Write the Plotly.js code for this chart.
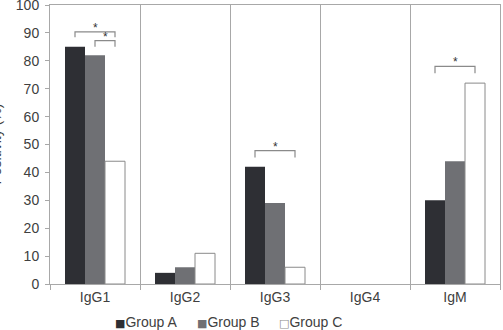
<!DOCTYPE html>
<html>
<head>
<meta charset="utf-8">
<script src="https://cdn.plot.ly/plotly-3.0.1.min.js"></script>
<style>html,body{margin:0;padding:0;background:#fff;}#chart{width:503px;height:330px;}</style>
</head>
<body>
<div id="chart"></div>
<script>
const categories = ['IgG1', 'IgG2', 'IgG3', 'IgG4', 'IgM'];
const groupNames = ['Group A', 'Group B', 'Group C'];
const groupA = [85, 4, 42, 0, 30];
const groupB = [82, 6, 29, 0, 44];
const groupC = [44, 11, 6, 0, 72];
const yTicks = [0, 10, 20, 30, 40, 50, 60, 70, 80, 90, 100];

// significance brackets: category, first group index, last group index, bracket height, leg bottom
const bracketCat = ['IgG1', 'IgG1', 'IgG3', 'IgM'];
const bracketFrom = [0, 1, 0, 0];
const bracketTo = [2, 2, 2, 2];
const bracketTop = [90.4, 87.2, 47.8, 78];
const bracketLeg = [88.4, 85, 45.3, 75.5];

const colors = ['#2e2f34', '#6f7074', '#ffffff'];
const lineColors = ['#2e2f34', '#6f7074', '#8a8a8a'];
const lineWidths = [0, 0, 1];
const series = [groupA, groupB, groupC];
const FONT = 'Liberation Sans, Arial, sans-serif';

const traces = series.map((vals, i) => ({
  type: 'bar',
  name: groupNames[i],
  x: categories,
  y: vals,
  marker: {color: colors[i], line: {color: lineColors[i], width: vals.map(v => v > 0 ? lineWidths[i] : 0)}},
  showlegend: false,
  hoverinfo: 'skip'
}));

const bargap = 1/3;
const barW = (1 - bargap) / series.length;
const center = (cat, g) => categories.indexOf(cat) + (g - (series.length - 1) / 2) * barW;

const shapes = [];
const annotations = [];
bracketCat.forEach((cat, k) => {
  const x0 = center(cat, bracketFrom[k]);
  const x1 = center(cat, bracketTo[k]);
  const top = bracketTop[k];
  const leg = bracketLeg[k];
  shapes.push({type: 'path', xref: 'x', yref: 'y',
    path: `M ${x0} ${leg} L ${x0} ${top} L ${x1} ${top} L ${x1} ${leg}`,
    line: {color: '#8a8a8a', width: 1.2}});
  annotations.push({xref: 'x', yref: 'y', x: (x0 + x1) / 2, y: top, text: '*',
    showarrow: false, yanchor: 'bottom', yshift: -5,
    font: {family: FONT, size: 12, color: '#333'}});
});
annotations.push({xref: 'paper', yref: 'paper', x: -0.122, y: 0.5, text: 'Positivity (%)',
  textangle: -90, showarrow: false, xanchor: 'center', yanchor: 'middle',
  font: {family: FONT, size: 14, color: '#404040'}});

// custom legend (square glyph + name)
const legendGlyph = ['■', '■', '□'];
const legendGlyphColor = ['#2e2f34', '#6f7074', '#8a8a8a'];
const legendX = [113, 195, 277];
groupNames.forEach((name, i) => {
  annotations.push({xref: 'paper', yref: 'paper',
    x: (legendX[i] - 50) / 450, y: (330 - 46 - 322) / 279,
    xanchor: 'left', yanchor: 'middle', showarrow: false,
    text: `<span style="color:${legendGlyphColor[i]};font-family:DejaVu Sans;font-size:11px">${legendGlyph[i]}</span>${name}`,
    font: {family: FONT, size: 14, color: '#404040'}});
});

const layout = {
  width: 503, height: 330,
  margin: {l: 50, r: 3, t: 5, b: 46, autoexpand: false},
  paper_bgcolor: '#fff', plot_bgcolor: '#fff',
  barmode: 'group', bargap: bargap, bargroupgap: 0,
  font: {family: FONT, size: 14, color: '#404040'},
  xaxis: {
    type: 'category', tickson: 'boundaries', showgrid: true, gridcolor: '#a8a8a8', gridwidth: 1,
    ticks: 'outside', ticklen: 5, tickcolor: '#a8a8a8',
    showline: true, linecolor: '#a8a8a8', linewidth: 1, mirror: true,
    tickfont: {size: 14, color: '#404040'}, fixedrange: true, automargin: false
  },
  yaxis: {
    range: [0, 100], tickvals: yTicks, showgrid: false, zeroline: false,
    ticks: 'outside', ticklen: 4, tickcolor: '#a8a8a8', ticklabelstandoff: 3,
    ticklabeloverflow: 'allow',
    showline: true, linecolor: '#a8a8a8', linewidth: 1, mirror: true,
    tickfont: {size: 14, color: '#404040'}, fixedrange: true, automargin: false
  },
  showlegend: false,
  shapes: shapes,
  annotations: annotations
};

Plotly.newPlot('chart', traces, layout, {displayModeBar: false, staticPlot: true});
</script>
</body>
</html>
